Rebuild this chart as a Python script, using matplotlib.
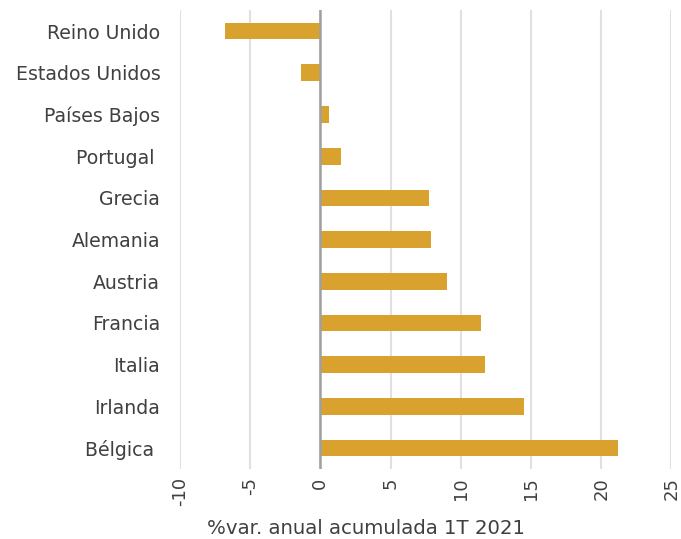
import matplotlib
matplotlib.use("Agg")
import matplotlib.pyplot as plt

categories = ["Reino Unido", "Estados Unidos", "Países Bajos", "Portugal ", "Grecia",
              "Alemania", "Austria", "Francia", "Italia", "Irlanda", "Bélgica "]
values = [-6.75, -1.35, 0.65, 1.5, 7.75, 7.85, 9.0, 11.45, 11.7, 14.5, 21.2]
xticks = [-10, -5, 0, 5, 10, 15, 20, 25]
xlabel = "%var. anual acumulada 1T 2021"

plt.rcParams['font.family'] = ['DejaVu Sans']
fig = plt.figure(figsize=(6.81, 5.39), dpi=100)
ax = fig.add_axes([0.264, 0.13, 0.722, 0.851])
ypos = list(range(len(categories)))
ax.barh(ypos, values, height=0.4, color="#D9A12E", zorder=3)
ax.set_ylim(len(categories) - 0.5, -0.5)
ax.set_xlim(-10, 25)
ax.set_xticks(xticks)
ax.set_xticklabels([str(t) for t in xticks], rotation=90, fontsize=13, color="#404040")
ax.set_yticks(ypos)
ax.set_yticklabels(categories, fontsize=13.6, color="#404040")
ax.tick_params(axis='both', length=0)
ax.tick_params(axis='y', pad=14)
ax.tick_params(axis='x', pad=6)
for s in ax.spines.values():
    s.set_visible(False)
ax.grid(axis='x', color="#E0E0E0", linewidth=1.5, zorder=0)
ax.axvline(0, color="#A0A0A0", linewidth=1.8, zorder=4)
ax.set_xlabel(xlabel, fontsize=14.2, color="#404040", labelpad=4)
ax.xaxis.set_label_coords(0.378, -0.11)
fig.savefig("out.png", dpi=100)
